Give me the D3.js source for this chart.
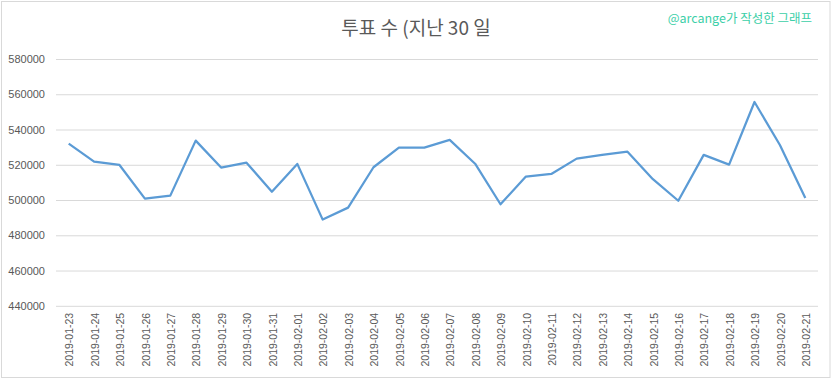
<!DOCTYPE html>
<html>
<head>
<meta charset="utf-8">
<script src="https://cdn.jsdelivr.net/npm/d3@7"></script>
<style>
	body { margin: 0; background: #fff; }
	#chart svg { display: block; }
	.yaxis text, .xaxis text { fill: #595959; font-family: "Liberation Sans", "Noto Sans CJK KR", sans-serif; }
	.gridline { stroke: #d9d9d9; stroke-width: 1px; }
	.line { fill: none; stroke: #5b9bd5; stroke-width: 2.25px; stroke-linejoin: round; }
</style>
</head>
<body>
<div id="chart"></div>
<script>
var dates = ['2019-01-23', '2019-01-24', '2019-01-25', '2019-01-26', '2019-01-27', '2019-01-28', '2019-01-29', '2019-01-30', '2019-01-31',
	'2019-02-01', '2019-02-02', '2019-02-03', '2019-02-04', '2019-02-05', '2019-02-06', '2019-02-07', '2019-02-08', '2019-02-09',
	'2019-02-10', '2019-02-11', '2019-02-12', '2019-02-13', '2019-02-14', '2019-02-15', '2019-02-16', '2019-02-17', '2019-02-18',
	'2019-02-19', '2019-02-20', '2019-02-21'];
var votes = [532000, 521800, 519900, 500800, 502500, 533700, 518400, 521200, 504700, 520500, 488900, 495700, 518600, 529700, 529700,
	534100, 520600, 497600, 513300, 514800, 523500, 525600, 527400, 511800, 499600, 525600, 520100, 555600, 531200, 501200];
var yTicks = [440000, 460000, 480000, 500000, 520000, 540000, 560000, 580000];
var title = "투표 수 (지난 30 일";
var credit = "@arcange가 작성한 그래프";

var width = 832;
var height = 379;
var plotLeft = 56, plotRight = 818, plotTop = 59, plotBottom = 305.8;

var svg = d3.select("#chart").append("svg")
	.attr("width", width)
	.attr("height", height);

// outer border
svg.append("rect")
	.attr("x", 1.5).attr("y", 1.5)
	.attr("width", width - 3.5).attr("height", height - 3)
	.attr("fill", "#fff")
	.attr("stroke", "#d9d9d9");

/* Scale */
var xScale = d3.scaleBand()
	.domain(dates)
	.range([plotLeft, plotRight]);

var yScale = d3.scaleLinear()
	.domain([440000, 580000])
	.range([plotBottom, plotTop]);

// y axis + gridlines
var yAxis = d3.axisLeft(yScale).tickValues(yTicks).tickFormat(d3.format("d")).tickSize(0).tickPadding(11);
var yg = svg.append("g")
	.attr("class", "yaxis")
	.attr("transform", `translate(${plotLeft}, 0)`)
	.call(yAxis);
yg.select(".domain").remove();
yg.selectAll("text").style("font-size", "11px");
yg.selectAll("g.tick")
	.append("line")
	.attr("class", "gridline")
	.attr("x1", 0)
	.attr("x2", plotRight - plotLeft);

// x axis
var xAxis = d3.axisBottom(xScale).tickSize(0).tickPadding(0);
var xg = svg.append("g")
	.attr("class", "xaxis")
	.attr("transform", `translate(0, ${plotBottom})`)
	.call(xAxis);
xg.select(".domain").remove();
xg.selectAll("text")
	.style("font-size", "10.5px")
	.attr("text-anchor", "end")
	.attr("dy", "0.35em")
	.attr("transform", "translate(1, 7) rotate(-90)")
	.attr("y", 0)
	.attr("x", 0);

/* line */
var line = d3.line()
	.x((d, i) => xScale(dates[i]) + xScale.bandwidth() / 2)
	.y(d => yScale(d));

svg.append("path")
	.attr("class", "line")
	.attr("d", line(votes));

// title and credit
svg.append("text")
	.attr("x", 416)
	.attr("y", 35)
	.attr("text-anchor", "middle")
	.style("font-family", "'Noto Sans CJK KR', sans-serif")
	.style("font-size", "19px")
	.style("fill", "#595959")
	.text(title);

svg.append("text")
	.attr("x", 812)
	.attr("y", 23)
	.attr("text-anchor", "end")
	.style("font-family", "'Noto Sans CJK KR', sans-serif")
	.style("font-size", "12.5px")
	.style("fill", "#3ccfa8")
	.text(credit);
</script>
</body>
</html>
